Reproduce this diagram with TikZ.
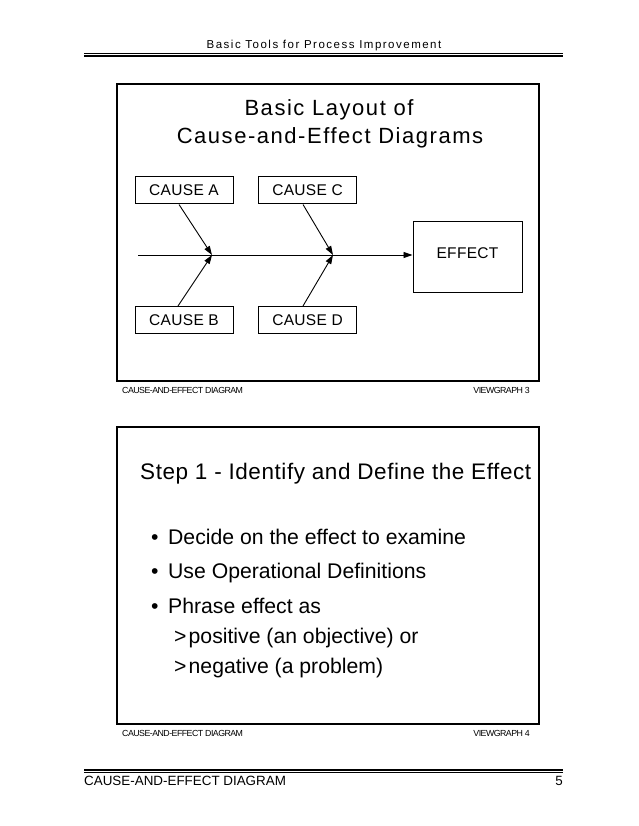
\documentclass[tikz,border=0pt]{standalone}
\usepackage{fontspec}
\setmainfont{Liberation Sans}
\usetikzlibrary{arrows.meta}
\tikzset{
  slidebox/.style={draw, line width=1.3pt, minimum width=422pt, minimum height=297pt, inner sep=0pt},
  causebox/.style={draw, line width=1pt, minimum width=98pt, minimum height=27pt, inner sep=0pt,
    font=\fontsize{15.5}{18}\selectfont\addfontfeature{LetterSpace=2}},
  effectbox/.style={draw, line width=1pt, minimum width=109pt, minimum height=70pt, inner sep=0pt},
  arr/.style={line width=0.9pt, -{Triangle[length=9pt,width=6pt]}},
  rule/.style={line width=0.8pt},
  rulethick/.style={line width=1.4pt},
  txt/.style={inner sep=0pt, anchor=base west},
  titlefont/.style={font=\fontsize{22}{26}\selectfont\addfontfeature{LetterSpace=7}},
  steptitle/.style={font=\fontsize{22.5}{26}\selectfont\addfontfeature{LetterSpace=2.5}},
  bulletfont/.style={font=\fontsize{21.2}{25}\selectfont},
  tinyfoot/.style={inner sep=0pt, font=\fontsize{8.8}{10}\selectfont\addfontfeature{LetterSpace=-6}},
  pagefoot/.style={inner sep=0pt, font=\fontsize{13.4}{16}\selectfont},
  header/.style={inner sep=0pt, font=\fontsize{11.5}{13}\selectfont\addfontfeature{LetterSpace=13}}
}
\begin{document}
\begin{tikzpicture}[x=1pt,y=-1pt]
\useasboundingbox (0,0) rectangle (638,826);
% header
\node[header, anchor=base] (hdr) at (324,49) {Basic Tools for Process Improvement};
\coordinate (hl1) at (84,53.3); \coordinate (hr1) at (563,53.3);
\coordinate (hl2) at (84,56); \coordinate (hr2) at (563,56);
\draw[rule] (hl1) -- (hr1);
\draw[rulethick] (hl2) -- (hr2);
% slide 1
\node[slidebox] (s1) at (328,232.5) {};
\node[titlefont, inner sep=0pt, anchor=base] (t1a) at (329,116) {Basic Layout of};
\node[titlefont, inner sep=0pt, anchor=base] (t1b) at (330,144) {Cause-and-Effect Diagrams};
\node[causebox] (A) at (184,190.5) {CAUSE A};
\node[causebox] (C) at (307.5,190.5) {CAUSE C};
\node[causebox] (B) at (184,320) {CAUSE B};
\node[causebox] (D) at (307.5,320) {CAUSE D};
\node[effectbox, label={[causebox, draw=none, yshift=4pt]center:EFFECT}] (E) at (467.5,257) {};
\coordinate (tail) at (138,255);
\coordinate (j1) at (212,255);
\coordinate (j2) at (333,255);
\draw[arr] (tail) -- (tail -| E.west);
\draw[arr] ([xshift=-5pt]A.south) -- (j1);
\draw[arr] ([xshift=-6pt]B.north) -- (j1);
\draw[arr] ([xshift=-4.5pt]C.south) -- (j2);
\draw[arr] ([xshift=-4.5pt]D.north) -- (j2);
\node[tinyfoot, anchor=base west] (f1l) at (122,393) {CAUSE-AND-EFFECT DIAGRAM};
\node[tinyfoot, anchor=base east] (f1r) at (530,393) {VIEWGRAPH 3};
% slide 2
\node[slidebox] (s2) at (328,575.5) {};
\node[steptitle, txt] (t2) at (140,479) {Step 1 - Identify and Define the Effect};
\node[bulletfont, txt] (b1) at (151,544) {\makebox[17pt][l]{•}Decide on the effect to examine};
\node[bulletfont, txt] (b2) at (151,578.5) {\makebox[17pt][l]{•}Use Operational Definitions};
\node[bulletfont, txt] (b3) at (151,613) {\makebox[17pt][l]{•}Phrase effect as};
\node[bulletfont, txt] (b4) at (174,643) {\makebox[14.5pt][l]{>}positive (an objective) or};
\node[bulletfont, txt] (b5) at (174,673) {\makebox[14.5pt][l]{>}negative (a problem)};
\node[tinyfoot, anchor=base west] (f2l) at (122,736) {CAUSE-AND-EFFECT DIAGRAM};
\node[tinyfoot, anchor=base east] (f2r) at (530,736) {VIEWGRAPH 4};
% page footer
\coordinate (fl1) at (84,770); \coordinate (fr1) at (563,770);
\coordinate (fl2) at (84,772.8); \coordinate (fr2) at (563,772.8);
\draw[rulethick] (fl1) -- (fr1);
\draw[rule] (fl2) -- (fr2);
\node[pagefoot, anchor=base west] (pf) at (84,785) {CAUSE-AND-EFFECT DIAGRAM};
\node[pagefoot, anchor=base east] (pn) at (563,785) {5};
\end{tikzpicture}
\end{document}
